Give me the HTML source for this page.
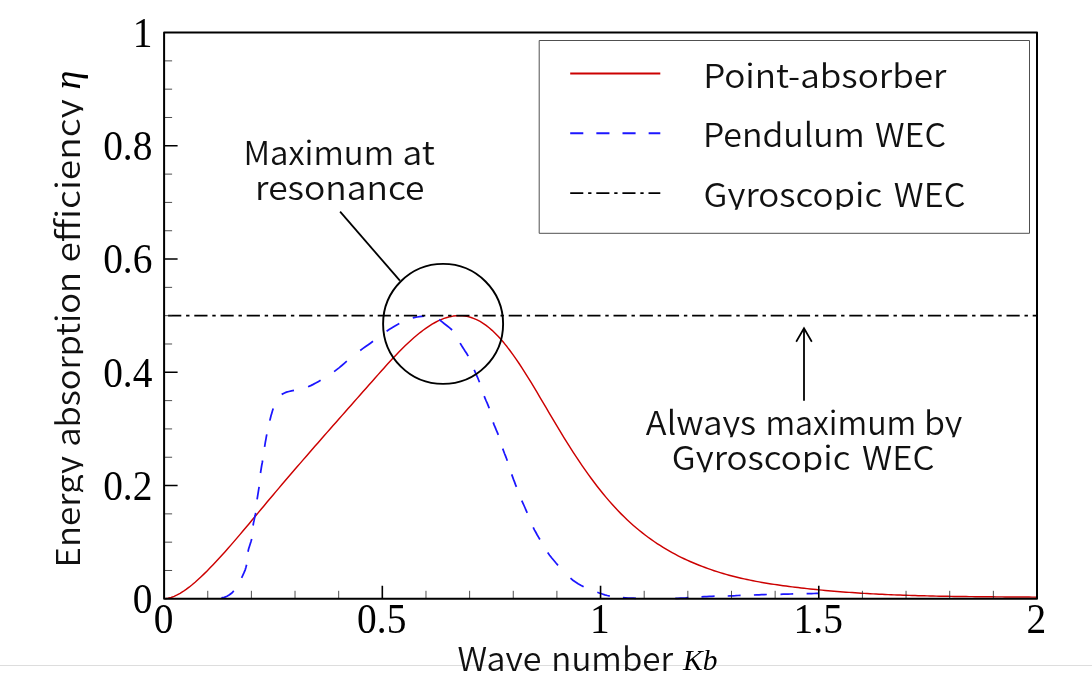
<!DOCTYPE html>
<html lang="en">
<head>
<meta charset="utf-8">
<title>Energy absorption efficiency</title>
<style>
html,body{margin:0;padding:0;background:#fff;}
body{width:1092px;height:695px;overflow:hidden;position:relative;}
svg{display:block;position:absolute;left:0;top:0;}
.sans{font-family:"Noto Sans CJK JP","Liberation Sans",sans-serif;font-size:32.5px;fill:#111;font-weight:350;}
.num{font-family:"Liberation Serif",serif;font-size:40px;fill:#000;}
.it{font-family:"Liberation Serif",serif;font-style:italic;fill:#000;}
</style>
</head>
<body>
<svg width="1092" height="695" viewBox="0 0 1092 695">
<defs><clipPath id="c1"><rect x="693.1" y="47.7" width="263.2" height="42.7"/></clipPath><clipPath id="c2"><rect x="693.1" y="106.9" width="181.7" height="42.7"/></clipPath><clipPath id="c3"><rect x="865.0" y="106.9" width="91.0" height="42.7"/></clipPath><clipPath id="c4"><rect x="693.6" y="167.0" width="198.6" height="42.7"/></clipPath><clipPath id="c5"><rect x="883.9" y="167.0" width="91.5" height="42.7"/></clipPath><clipPath id="c6"><rect x="233.5" y="124.7" width="170.6" height="42.7"/></clipPath><clipPath id="c7"><rect x="392.6" y="124.7" width="52.3" height="42.7"/></clipPath><clipPath id="c8"><rect x="245.1" y="159.8" width="189.3" height="42.7"/></clipPath><clipPath id="c9"><rect x="635.9" y="394.5" width="130.2" height="42.7"/></clipPath><clipPath id="c10"><rect x="755.4" y="394.5" width="170.9" height="42.7"/></clipPath><clipPath id="c11"><rect x="914.0" y="394.5" width="58.4" height="42.7"/></clipPath><clipPath id="c12"><rect x="661.9" y="429.6" width="198.5" height="42.7"/></clipPath><clipPath id="c13"><rect x="852.1" y="429.6" width="92.4" height="42.7"/></clipPath><clipPath id="c14"><rect x="447.5" y="630.8" width="104.0" height="42.7"/></clipPath><clipPath id="c15"><rect x="541.3" y="630.8" width="141.7" height="42.7"/></clipPath><clipPath id="c16"><rect x="-10.0" y="-40.0" width="131.4" height="42.7"/></clipPath><clipPath id="c17"><rect x="110.6" y="-40.0" width="194.8" height="42.7"/></clipPath><clipPath id="c18"><rect x="294.8" y="-40.0" width="183.3" height="42.7"/></clipPath></defs>
<rect x="0" y="0" width="1092" height="695" fill="#fff"/>
<rect x="0" y="665" width="1092" height="1" fill="#dddddd"/>
<!-- curves -->
<path d="M165.1,598.80 L168.1,598.31 L171.1,597.46 L174.1,596.33 L177.1,594.94 L180.1,593.32 L183.1,591.48 L186.1,589.43 L189.1,587.20 L192.1,584.80 L195.1,582.25 L198.1,579.57 L201.1,576.77 L204.1,573.88 L207.1,570.90 L210.1,567.85 L213.1,564.73 L216.1,561.55 L219.1,558.31 L222.1,555.02 L225.1,551.68 L228.1,548.29 L231.1,544.87 L234.1,541.40 L237.1,537.90 L240.1,534.38 L243.1,530.83 L246.1,527.26 L249.1,523.67 L252.1,520.07 L255.1,516.47 L258.1,512.87 L261.1,509.26 L264.1,505.67 L267.1,502.08 L270.1,498.51 L273.1,494.94 L276.1,491.39 L279.1,487.85 L282.1,484.32 L285.1,480.80 L288.1,477.29 L291.1,473.79 L294.1,470.30 L297.1,466.82 L300.1,463.35 L303.1,459.88 L306.1,456.42 L309.1,452.97 L312.1,449.53 L315.1,446.09 L318.1,442.66 L321.1,439.23 L324.1,435.81 L327.1,432.39 L330.1,428.98 L333.1,425.57 L336.1,422.16 L339.1,418.76 L342.1,415.36 L345.1,411.96 L348.1,408.57 L351.1,405.17 L354.1,401.78 L357.1,398.39 L360.1,394.99 L363.1,391.60 L366.1,388.21 L369.1,384.82 L372.1,381.42 L375.1,378.03 L378.1,374.64 L381.1,371.27 L384.1,367.92 L387.1,364.61 L390.1,361.33 L393.1,358.11 L396.1,354.94 L399.1,351.83 L402.1,348.80 L405.1,345.84 L408.1,342.98 L411.1,340.21 L414.1,337.54 L417.1,334.99 L420.1,332.56 L423.1,330.26 L426.1,328.09 L429.1,326.07 L432.1,324.21 L435.1,322.50 L438.1,320.96 L441.1,319.60 L444.1,318.43 L447.1,317.45 L450.1,316.67 L453.1,316.09 L456.1,315.74 L459.1,315.61 L462.1,315.72 L465.1,316.06 L468.1,316.65 L471.1,317.49 L474.1,318.57 L477.1,319.90 L480.1,321.48 L483.1,323.31 L486.1,325.39 L489.1,327.73 L492.1,330.33 L495.1,333.17 L498.1,336.25 L501.1,339.56 L504.1,343.09 L507.1,346.82 L510.1,350.73 L513.1,354.83 L516.1,359.10 L519.1,363.52 L522.1,368.09 L525.1,372.78 L528.1,377.57 L531.1,382.46 L534.1,387.43 L537.1,392.45 L540.1,397.51 L543.1,402.60 L546.1,407.70 L549.1,412.80 L552.1,417.88 L555.1,422.93 L558.1,427.95 L561.1,432.91 L564.1,437.82 L567.1,442.67 L570.1,447.43 L573.1,452.11 L576.1,456.70 L579.1,461.20 L582.1,465.61 L585.1,469.92 L588.1,474.14 L591.1,478.27 L594.1,482.29 L597.1,486.22 L600.1,490.05 L603.1,493.77 L606.1,497.39 L609.1,500.90 L612.1,504.31 L615.1,507.61 L618.1,510.80 L621.1,513.88 L624.1,516.86 L627.1,519.73 L630.1,522.51 L633.1,525.19 L636.1,527.77 L639.1,530.27 L642.1,532.68 L645.1,535.01 L648.1,537.26 L651.1,539.42 L654.1,541.51 L657.1,543.53 L660.1,545.48 L663.1,547.35 L666.1,549.16 L669.1,550.91 L672.1,552.59 L675.1,554.21 L678.1,555.77 L681.1,557.28 L684.1,558.73 L687.1,560.13 L690.1,561.48 L693.1,562.78 L696.1,564.04 L699.1,565.25 L702.1,566.42 L705.1,567.54 L708.1,568.63 L711.1,569.68 L714.1,570.69 L717.1,571.66 L720.1,572.59 L723.1,573.49 L726.1,574.35 L729.1,575.19 L732.1,575.98 L735.1,576.75 L738.1,577.49 L741.1,578.20 L744.1,578.88 L747.1,579.54 L750.1,580.16 L753.1,580.77 L756.1,581.35 L759.1,581.91 L762.1,582.44 L765.1,582.96 L768.1,583.45 L771.1,583.93 L774.1,584.39 L777.1,584.84 L780.1,585.27 L783.1,585.68 L786.1,586.09 L789.1,586.48 L792.1,586.86 L795.1,587.23 L798.1,587.59 L801.1,587.94 L804.1,588.28 L807.1,588.61 L810.1,588.94 L813.1,589.25 L816.1,589.56 L819.1,589.86 L822.1,590.14 L825.1,590.42 L828.1,590.70 L831.1,590.96 L834.1,591.22 L837.1,591.46 L840.1,591.70 L843.1,591.94 L846.1,592.16 L849.1,592.38 L852.1,592.59 L855.1,592.79 L858.1,592.99 L861.1,593.18 L864.1,593.36 L867.1,593.54 L870.1,593.71 L873.1,593.87 L876.1,594.03 L879.1,594.18 L882.1,594.33 L885.1,594.47 L888.1,594.60 L891.1,594.73 L894.1,594.85 L897.1,594.97 L900.1,595.08 L903.1,595.19 L906.1,595.30 L909.1,595.40 L912.1,595.49 L915.1,595.58 L918.1,595.67 L921.1,595.75 L924.1,595.83 L927.1,595.90 L930.1,595.97 L933.1,596.04 L936.1,596.10 L939.1,596.16 L942.1,596.22 L945.1,596.27 L948.1,596.32 L951.1,596.37 L954.1,596.41 L957.1,596.46 L960.1,596.50 L963.1,596.54 L966.1,596.57 L969.1,596.61 L972.1,596.64 L975.1,596.67 L978.1,596.70 L981.1,596.73 L984.1,596.75 L987.1,596.78 L990.1,596.80 L993.1,596.83 L996.1,596.85 L999.1,596.87 L1002.1,596.89 L1005.1,596.91 L1008.1,596.93 L1011.1,596.96 L1014.1,596.98 L1017.1,597.00 L1020.1,597.02 L1023.1,597.04 L1026.1,597.06 L1029.1,597.09 L1032.1,597.11 L1035.1,597.14 L1036.4,597.15" stroke="#cc0000" stroke-width="1.45" fill="none" stroke-linejoin="round"/>
<path d="M221.4,597.8 L224.3,597.3 L227.0,596.3 L229.5,594.8 L231.8,593.0 L233.8,590.9 M241.6,577.8 L242.8,575.3 L244.0,572.7 L245.1,570.1 L245.9,567.5 L246.6,564.8 M248.0,551.7 L248.6,549.1 L249.4,546.6 L250.2,544.1 L251.0,541.6 L251.7,539.0 M253.1,525.5 L253.5,522.9 L254.1,520.4 L254.6,517.9 L255.2,515.3 L255.7,512.8 M257.1,499.3 L257.5,496.8 L257.9,494.3 L258.3,491.8 L258.7,489.3 L259.1,486.8 M260.5,473.0 L260.9,470.5 L261.3,468.0 L261.7,465.5 L262.2,463.0 L262.6,460.5 M264.6,446.8 L265.0,444.3 L265.4,441.8 L265.9,439.3 L266.3,436.8 L266.8,434.3 M269.8,420.6 L270.4,418.2 L271.0,415.8 L271.7,413.4 L272.4,411.0 L273.2,408.5 M281.7,394.4 L284.0,393.2 L286.4,392.2 L288.9,391.5 L291.5,390.9 L294.0,390.4 M308.1,386.7 L310.7,385.6 L313.2,384.4 L315.7,383.1 L318.2,381.7 L320.6,380.3 M334.1,371.6 L336.7,369.6 L339.3,367.6 L341.8,365.5 L344.3,363.3 L346.8,361.2 M360.2,350.5 L362.7,348.6 L365.3,346.8 L367.9,345.0 L370.4,343.2 L373.0,341.3 M386.6,331.2 L389.1,329.5 L391.6,328.0 L394.1,326.4 L396.7,324.9 L399.3,323.5 M412.8,317.9 L415.0,317.4 L417.2,317.0 L419.5,316.7 L421.7,316.4 L424.0,316.1 M439.2,319.5 L441.8,321.6 L444.4,323.7 L447.0,325.7 L449.7,327.8 L452.1,330.0 M460.1,343.1 L461.7,345.8 L463.4,348.4 L465.0,351.0 L466.7,353.5 L468.2,356.2 M474.2,369.9 L475.3,372.4 L476.4,374.8 L477.5,377.3 L478.5,379.8 L479.5,382.3 M484.2,396.2 L485.2,398.6 L486.2,401.0 L487.3,403.4 L488.3,405.9 L489.2,408.3 M493.2,422.4 L494.1,424.9 L495.2,427.4 L496.2,429.9 L497.3,432.4 L498.3,434.9 M502.7,448.6 L503.6,451.0 L504.5,453.5 L505.5,455.9 L506.4,458.3 L507.3,460.7 M511.7,474.4 L512.6,476.9 L513.5,479.4 L514.5,481.9 L515.4,484.4 L516.4,486.9 M521.8,500.6 L522.9,503.1 L524.0,505.5 L525.1,508.0 L526.1,510.4 L527.2,512.9 M533.2,527.4 L534.4,529.9 L535.8,532.3 L537.1,534.7 L538.5,537.1 L539.9,539.5 M547.7,552.6 L549.6,555.2 L551.6,557.8 L553.7,560.3 L555.8,562.8 L558.0,565.3 M570.5,578.2 L572.9,580.2 L575.5,582.0 L578.1,583.7 L580.8,585.3 L583.6,586.8 M597.3,592.3 L599.8,593.2 L602.3,594.0 L604.8,594.8 L607.3,595.5 L609.8,596.1 M622.9,597.7 L625.5,597.8 L628.1,598.0 L630.8,598.1 L633.4,598.2 L636.0,598.3 M675.3,598.4 L677.9,598.3 L680.5,598.1 L683.2,598.0 L685.8,597.9 L688.4,597.7 M701.5,596.9 L704.1,596.7 L706.7,596.6 L709.4,596.4 L712.0,596.3 L714.6,596.2 M727.7,596.0 L730.3,595.9 L732.9,595.8 L735.4,595.7 L738.0,595.5 L740.6,595.4 M753.9,595.0 L756.5,594.9 L759.1,594.8 L761.6,594.7 L764.2,594.6 L766.8,594.5 M780.5,594.3 L783.0,594.2 L785.6,594.2 L788.1,594.1 L790.7,594.0 L793.2,593.9 M806.6,593.7 L809.1,593.7 L811.5,593.6 L814.0,593.5 L816.4,593.4 L818.9,593.3" stroke="#1c16ff" stroke-width="1.75" fill="none"/>
<path d="M168.1,315.7H1037.0" stroke="#000" stroke-width="1.8" stroke-dasharray="13.2 4.8 3.4 4.8" fill="none"/>
<!-- axis ticks -->
<path d="M207.75,598.8V590.8M251.39,598.8V590.8M295.03,598.8V590.8M338.68,598.8V590.8M425.97,598.8V590.8M469.62,598.8V590.8M513.26,598.8V590.8M556.90,598.8V590.8M644.19,598.8V590.8M687.84,598.8V590.8M731.49,598.8V590.8M775.13,598.8V590.8M862.42,598.8V590.8M906.06,598.8V590.8M949.71,598.8V590.8M993.35,598.8V590.8M164.1,570.49H172.1M164.1,542.17H172.1M164.1,513.86H172.1M164.1,457.24H172.1M164.1,428.92H172.1M164.1,400.61H172.1M164.1,343.99H172.1M164.1,315.67H172.1M164.1,287.36H172.1M164.1,230.74H172.1M164.1,202.42H172.1M164.1,174.11H172.1M164.1,117.49H172.1M164.1,89.17H172.1M164.1,60.86H172.1" stroke="#222" stroke-width="0.8" fill="none"/>
<path d="M382.32,598.8V585.8M600.55,598.8V585.8M818.77,598.8V585.8M164.1,485.55H177.6M164.1,372.30H177.6M164.1,259.05H177.6M164.1,145.80H177.6" stroke="#000" stroke-width="1.6" fill="none"/>
<!-- frame -->
<rect x="164.1" y="32.55" width="872.9" height="566.25" fill="none" stroke="#000" stroke-width="2" stroke-linejoin="round"/>
<!-- annotations -->
<circle cx="443.1" cy="323.9" r="60" fill="none" stroke="#000" stroke-width="1.9"/>
<path d="M340.1,211.6L399.9,280.7" stroke="#000" stroke-width="1.8" fill="none"/>
<path d="M804,400.8V329" stroke="#000" stroke-width="1.8" fill="none"/>
<path d="M796.2,341.7L804,328.3L811.8,341.7" stroke="#000" stroke-width="1.7" fill="none" stroke-linejoin="miter"/>
<!-- legend -->
<rect x="539.2" y="40.5" width="490.3" height="192.8" fill="#fff" stroke="#505050" stroke-width="1" stroke-linejoin="round"/>
<path d="M570.2,73.5H660.3" stroke="#cc0000" stroke-width="1.95"/>
<path d="M570.2,133.2H660.3" stroke="#1c16ff" stroke-width="1.9" stroke-dasharray="13.1 13.05"/>
<path d="M570.2,193.1H660.3" stroke="#000" stroke-width="1.8" stroke-dasharray="13.1 4.85 3.3 4.85"/>
<g class="sans">
<g clip-path="url(#c1)"><text x="703.15" y="87.7" textLength="243.21" lengthAdjust="spacingAndGlyphs">Point-absorber</text></g>
<g clip-path="url(#c2)"><text x="703.08" y="146.9" textLength="161.65" lengthAdjust="spacingAndGlyphs">Pendulum</text></g> <g clip-path="url(#c3)"><text x="874.99" y="146.9" textLength="70.97" lengthAdjust="spacingAndGlyphs">WEC</text></g>
<g clip-path="url(#c4)"><text x="703.58" y="207.0" textLength="178.57" lengthAdjust="spacingAndGlyphs">Gyroscopic</text></g> <g clip-path="url(#c5)"><text x="893.88" y="207.0" textLength="71.49" lengthAdjust="spacingAndGlyphs">WEC</text></g>
<g clip-path="url(#c6)"><text x="243.47" y="164.7" textLength="150.6" lengthAdjust="spacingAndGlyphs">Maximum</text></g> <g clip-path="url(#c7)"><text x="402.62" y="164.7" textLength="32.34" lengthAdjust="spacingAndGlyphs">at</text></g>
<g clip-path="url(#c8)"><text x="255.13" y="199.8" textLength="169.31" lengthAdjust="spacingAndGlyphs">resonance</text></g>
<g clip-path="url(#c9)"><text x="645.87" y="434.5" textLength="110.22" lengthAdjust="spacingAndGlyphs">Always</text></g> <g clip-path="url(#c10)"><text x="765.42" y="434.5" textLength="150.87" lengthAdjust="spacingAndGlyphs">maximum</text></g> <g clip-path="url(#c11)"><text x="923.95" y="434.5" textLength="38.35" lengthAdjust="spacingAndGlyphs">by</text></g>
<g clip-path="url(#c12)"><text x="671.88" y="469.6" textLength="178.46" lengthAdjust="spacingAndGlyphs">Gyroscopic</text></g> <g clip-path="url(#c13)"><text x="862.07" y="469.6" textLength="72.42" lengthAdjust="spacingAndGlyphs">WEC</text></g>
<g clip-path="url(#c14)"><text x="457.48" y="670.8" textLength="83.98" lengthAdjust="spacingAndGlyphs">Wave</text></g> <g clip-path="url(#c15)"><text x="551.34" y="670.8" textLength="121.73" lengthAdjust="spacingAndGlyphs">number</text></g>
<g transform="translate(80.4,567.4) rotate(-90)"><g clip-path="url(#c16)"><text x="-0.02" y="0" textLength="111.38" lengthAdjust="spacingAndGlyphs">Energy</text></g> <g clip-path="url(#c17)"><text x="120.57" y="0" textLength="174.8" lengthAdjust="spacingAndGlyphs">absorption</text></g> <g clip-path="url(#c18)"><text x="304.8" y="0" textLength="163.34" lengthAdjust="spacingAndGlyphs">efficiency</text></g></g>
</g>
<text class="it" transform="translate(683.1,670.2) scale(1.035,1)" font-size="28.5">Kb</text>
<g transform="translate(79.8,89.5) rotate(-90)"><text class="it" x="0" y="0" font-size="38">η</text></g>
<g class="num"><text transform="translate(152.4,46.9) scale(0.985,1.06)" text-anchor="end">1</text> <text transform="translate(152.4,160.2) scale(0.985,1.06)" text-anchor="end">0.8</text> <text transform="translate(152.4,273.4) scale(0.985,1.06)" text-anchor="end">0.6</text> <text transform="translate(152.4,386.7) scale(0.985,1.06)" text-anchor="end">0.4</text> <text transform="translate(152.4,499.9) scale(0.985,1.06)" text-anchor="end">0.2</text> <text transform="translate(152.4,613.2) scale(0.985,1.06)" text-anchor="end">0</text> <text transform="translate(163.5,633.2) scale(0.985,1.06)" text-anchor="middle">0</text> <text transform="translate(381.7,633.2) scale(0.985,1.06)" text-anchor="middle">0.5</text> <text transform="translate(599.9,633.2) scale(0.985,1.06)" text-anchor="middle">1</text> <text transform="translate(818.2,633.2) scale(0.985,1.06)" text-anchor="middle">1.5</text> <text transform="translate(1036.4,633.2) scale(0.985,1.06)" text-anchor="middle">2</text></g>
</svg>
</body>
</html>
